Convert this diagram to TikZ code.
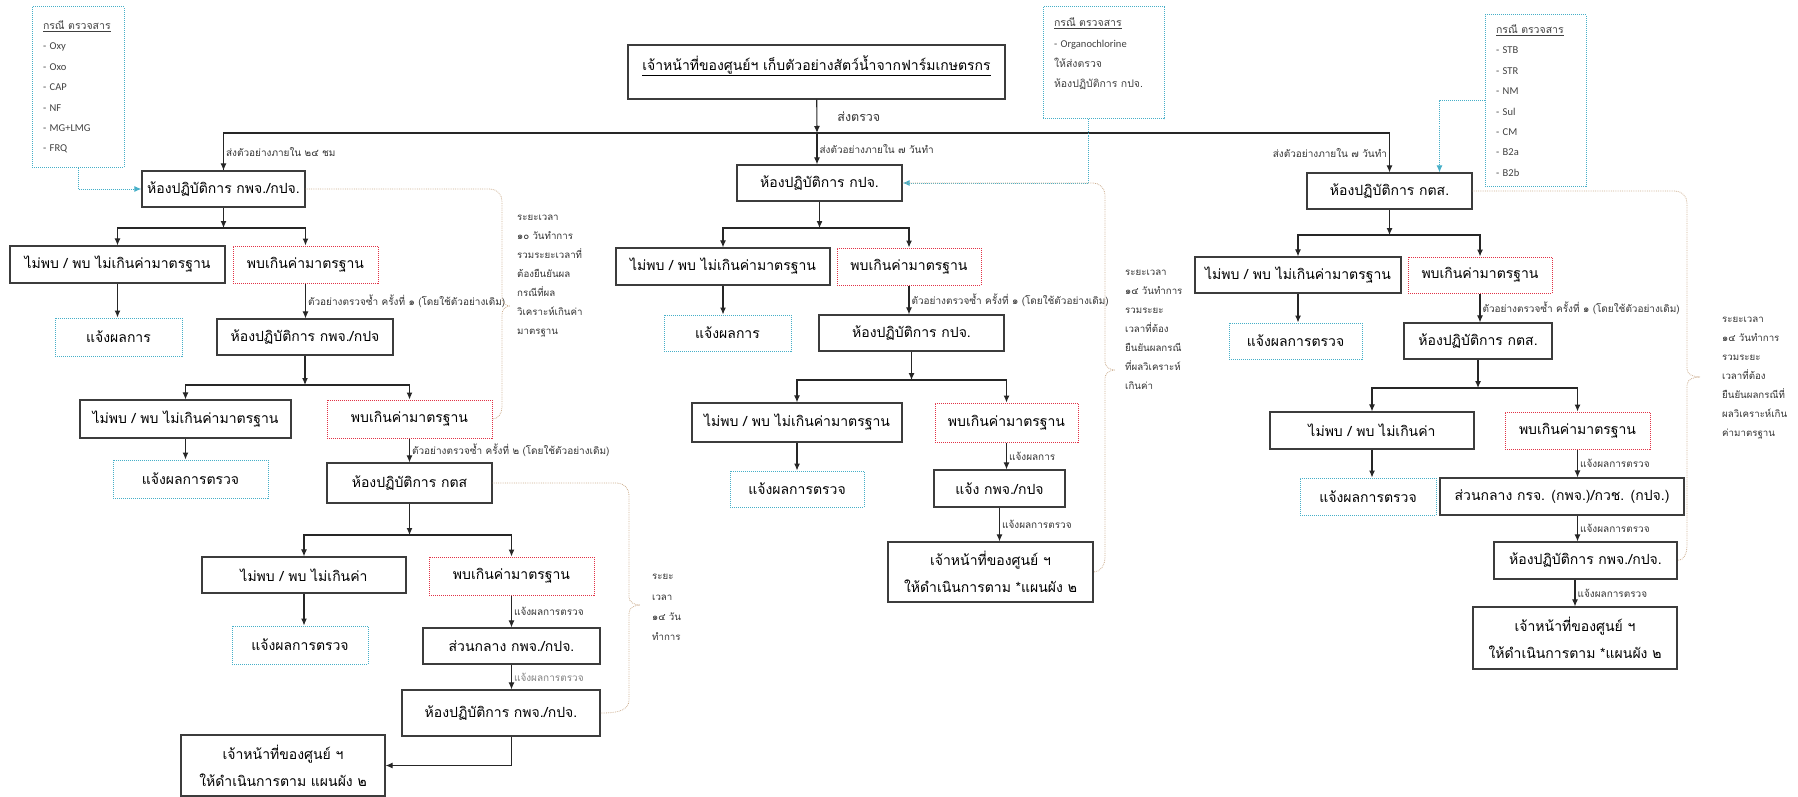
\documentclass[tikz,border=0pt]{standalone}
\usepackage{fontspec}
\setmainfont{Loma}[Script=Thai]
\newfontfamily\chemfont{Carlito}
\usetikzlibrary{arrows.meta}
\definecolor{boxgray}{RGB}{60,60,60}
\definecolor{redline}{RGB}{225,50,70}
\definecolor{cyanline}{RGB}{70,175,200}
\definecolor{tanline}{RGB}{205,175,145}
\tikzset{
    box/.style = {draw = boxgray, line width = 1.2pt, inner sep = 0pt, align = center, font = \fontsize{14}{27}\selectfont},
    redbox/.style = {box, draw = redline, line width = 1pt, densely dotted},
    notebox/.style = {box, draw = cyanline, line width = 1pt, densely dotted},
    chembox/.style = {draw = cyanline, line width = 1pt, densely dotted, align = left, inner xsep = 11pt, inner ysep = 0pt, font = \fontsize{10.5}{20.4}\selectfont, text = black!75},
    sz/.style 2 args = {minimum width = #1pt, minimum height = #2pt},
    lbl/.style = {inner sep = 2pt, font = \fontsize{10}{12}\selectfont, text = black!80},
    note/.style = {inner sep = 0pt, align = left, font = \fontsize{9.7}{19}\selectfont, text = black!80},
    flow/.style = {line width = 1.1pt, black!85, -{Latex[length = 7pt, width = 6pt]}},
    link/.style = {line width = 1pt, cyanline, densely dotted, -{Latex[length = 7pt, width = 6pt]}},
    brace/.style = {line width = 0.8pt, tanline, densely dotted}
}
\begin{document}
\begin{tikzpicture}[x = 1pt, y = -1pt]
    \useasboundingbox (0,0) rectangle (1798,797);

    \node[box, sz = {377}{54}, font = \fontsize{14}{18}\selectfont] (top) at (816.5,72) {\underline{เจ้าหน้าที่ของศูนย์ฯ เก็บตัวอย่างสัตว์น้ำจากฟาร์มเกษตรกร}\\ \mbox{}};
    \coordinate (hub) at (817,133);

    \node[chembox, sz = {92}{160}, text width = 70pt] (chemL) at (78,87) {\underline{กรณี ตรวจสาร}\\{\chemfont - Oxy}\\{\chemfont - Oxo}\\{\chemfont - CAP}\\{\chemfont - NF}\\{\chemfont - MG+LMG}\\{\chemfont - FRQ}};
    \node[chembox, sz = {121}{112}, text width = 99pt] (chemM) at (1103.5,63) {\underline{กรณี ตรวจสาร}\\{\chemfont - Organochlorine}\\ให้ส่งตรวจ\\ห้องปฏิบัติการ กปจ.\\ \mbox{}};
    \node[chembox, sz = {101}{171}, text width = 79pt] (chemR) at (1535.5,100.5) {\underline{กรณี ตรวจสาร}\\{\chemfont - STB}\\{\chemfont - STR}\\{\chemfont - NM}\\{\chemfont - Sul}\\{\chemfont - CM}\\{\chemfont - B2a}\\{\chemfont - B2b}};

    \begin{scope}
        \node[box, sz = {163}{36}] (L1) at (223.5,189) {ห้องปฏิบัติการ กพจ./กปจ.};
        \node[box, sz = {215}{37}] (L2a) at (117.5,264.5) {ไม่พบ / พบ ไม่เกินค่ามาตรฐาน};
        \node[redbox, sz = {145}{37}] (L2b) at (305.5,264.5) {พบเกินค่ามาตรฐาน};
        \node[notebox, sz = {127}{38}] (L2n) at (118.5,337) {แจ้งผลการ};
        \node[box, sz = {176}{36}] (L3) at (305,337) {ห้องปฏิบัติการ กพจ./กปจ};
        \node[box, sz = {211}{38}] (L4a) at (185.5,419) {ไม่พบ / พบ ไม่เกินค่ามาตรฐาน};
        \node[redbox, sz = {165}{38}] (L4b) at (409.5,419) {พบเกินค่ามาตรฐาน};
        \node[notebox, sz = {155}{38}] (L4n) at (190.5,479) {แจ้งผลการตรวจ};
        \node[box, sz = {165}{40}] (L5) at (409.5,483) {ห้องปฏิบัติการ กตส};
        \node[box, sz = {204}{36}] (L6a) at (304,575) {ไม่พบ / พบ ไม่เกินค่า};
        \node[redbox, sz = {165}{38}] (L6b) at (511.5,576) {พบเกินค่ามาตรฐาน};
        \node[notebox, sz = {136}{38}] (L6n) at (300,645) {แจ้งผลการตรวจ};
        \node[box, sz = {177}{36}] (L7) at (511.5,646) {ส่วนกลาง กพจ./กปจ.};
        \node[box, sz = {198}{46}] (L8) at (501,713) {ห้องปฏิบัติการ กพจ./กปจ.};
        \node[box, sz = {204}{61}] (L9) at (283,765.5) {เจ้าหน้าที่ของศูนย์ ฯ\\ให้ดำเนินการตาม แผนผัง ๒};
        \coordinate (sL1) at (216,228);
        \coordinate (sL3) at (301,385);
        \coordinate (sL5) at (408,535);
    \end{scope}

    \begin{scope}
        \node[box, sz = {165}{36}] (M1) at (819.5,183) {ห้องปฏิบัติการ กปจ.};
        \node[box, sz = {214}{37}] (M2a) at (723,266.5) {ไม่พบ / พบ ไม่เกินค่ามาตรฐาน};
        \node[redbox, sz = {144}{37}] (M2b) at (909,266.5) {พบเกินค่ามาตรฐาน};
        \node[notebox, sz = {127}{36}] (M2n) at (727.5,333) {แจ้งผลการ};
        \node[box, sz = {185}{36}] (M3) at (911.5,333) {ห้องปฏิบัติการ กปจ.};
        \node[box, sz = {210}{39}] (M4a) at (797,422.5) {ไม่พบ / พบ ไม่เกินค่ามาตรฐาน};
        \node[redbox, sz = {143}{39}] (M4b) at (1006.5,422.5) {พบเกินค่ามาตรฐาน};
        \node[notebox, sz = {134}{36}] (M4n) at (797,489) {แจ้งผลการตรวจ};
        \node[box, sz = {131}{37}] (M5) at (999.5,488.5) {แจ้ง กพจ./กปจ};
        \node[box, sz = {205}{60}] (M6) at (990.5,572) {เจ้าหน้าที่ของศูนย์ ฯ\\ให้ดำเนินการตาม *แผนผัง ๒};
        \coordinate (sM1) at (818,228);
        \coordinate (sM3) at (904,380);
    \end{scope}

    \begin{scope}
        \node[box, sz = {165}{36}] (R1) at (1389.5,191) {ห้องปฏิบัติการ กตส.};
        \node[box, sz = {206}{36}] (R2a) at (1298,275) {ไม่พบ / พบ ไม่เกินค่ามาตรฐาน};
        \node[redbox, sz = {144}{36}] (R2b) at (1480,275) {พบเกินค่ามาตรฐาน};
        \node[notebox, sz = {133}{36}] (R2n) at (1295.5,341) {แจ้งผลการตรวจ};
        \node[box, sz = {148}{36}] (R3) at (1478,341) {ห้องปฏิบัติการ กตส.};
        \node[box, sz = {204}{37}] (R4a) at (1372,430.5) {ไม่พบ / พบ ไม่เกินค่า};
        \node[redbox, sz = {145}{37}] (R4b) at (1577.5,430.5) {พบเกินค่ามาตรฐาน};
        \node[notebox, sz = {136}{37}] (R4n) at (1368,496.5) {แจ้งผลการตรวจ};
        \node[box, sz = {244}{37}] (R5) at (1562,496.5) {ส่วนกลาง กรจ. (กพจ.)/กวช. (กปจ.)};
        \node[box, sz = {183}{37}] (R6) at (1585.5,560.5) {ห้องปฏิบัติการ กพจ./กปจ.};
        \node[box, sz = {204}{62}] (R7) at (1575,638) {เจ้าหน้าที่ของศูนย์ ฯ\\ให้ดำเนินการตาม *แผนผัง ๒};
        \coordinate (sR1) at (1389,235);
        \coordinate (sR3) at (1475,388);
    \end{scope}

    \draw[flow] (top) -- node[lbl, right = 18pt, font = \fontsize{12.5}{14}\selectfont] {ส่งตรวจ} (hub);
    \draw[line width = 1.1pt, black!85] (hub) -| (L1.north);
    \draw[flow] (hub) -| node[lbl, pos = 0.75, right] {ส่งตัวอย่างภายใน ๒๔ ชม} (L1.north);
    \draw[flow] (hub) -- node[lbl, right] {ส่งตัวอย่างภายใน ๗ วันทำ} (hub |- M1.north);
    \draw[flow] (hub) -| node[lbl, pos = 0.75, left] {ส่งตัวอย่างภายใน ๗ วันทำ} (R1.north);

    \foreach \a/\s/\b/\c in {L1/sL1/L2a/L2b, L3/sL3/L4a/L4b, L5/sL5/L6a/L6b, M1/sM1/M2a/M2b, M3/sM3/M4a/M4b, R1/sR1/R2a/R2b, R3/sR3/R4a/R4b} {
        \draw[flow] (\a.south) -- (\a.south |- \s);
        \draw[flow] (\s) -| (\b.north);
        \draw[flow] (\s) -| (\c.north);
    }
    \foreach \a/\b in {L2a/L2n, L4a/L4n, L6a/L6n, M2a/M2n, M4a/M4n, R2a/R2n, R4a/R4n}
        \draw[flow] (\a) -- (\a.south |- \b.north);

    \draw[flow] (L2b) -- node[lbl, right] {ตัวอย่างตรวจซ้ำ ครั้งที่ ๑ (โดยใช้ตัวอย่างเดิม)} (L2b.south |- L3.north);
    \draw[flow] (M2b) -- node[lbl, right] {ตัวอย่างตรวจซ้ำ ครั้งที่ ๑ (โดยใช้ตัวอย่างเดิม)} (M2b.south |- M3.north);
    \draw[flow] (R2b) -- node[lbl, right] {ตัวอย่างตรวจซ้ำ ครั้งที่ ๑ (โดยใช้ตัวอย่างเดิม)} (R2b.south |- R3.north);
    \draw[flow] (L4b) -- node[lbl, right] {ตัวอย่างตรวจซ้ำ ครั้งที่ ๒ (โดยใช้ตัวอย่างเดิม)} (L4b.south |- L5.north);
    \draw[flow] (L6b) -- node[lbl, right] {แจ้งผลการตรวจ} (L6b.south |- L7.north);
    \draw[flow] (L7) -- node[lbl, right, text = black!50] {แจ้งผลการตรวจ} (L7.south |- L8.north);
    \draw[flow] (L8.south -| L7.south) |- (L9.east);
    \draw[flow] (M4b) -- node[lbl, right] {แจ้งผลการ} (M4b.south |- M5.north);
    \draw[flow] (M5) -- node[lbl, right] {แจ้งผลการตรวจ} (M5.south |- M6.north);
    \draw[flow] (R4b) -- node[lbl, right] {แจ้งผลการตรวจ} (R4b.south |- R5.north);
    \draw[flow] (R5.south -| R4b.south) -- node[lbl, right] {แจ้งผลการตรวจ} (R6.north -| R4b.south);
    \draw[flow] (R6.south -| R7.north) -- node[lbl, right] {แจ้งผลการตรวจ} (R7.north);

    \draw[link] (chemL.south) |- (L1.west);
    \draw[link] ([xshift = -15pt]chemM.south) |- (M1.east);
    \draw[link] (chemR.west) -| ([xshift = 50pt]R1.north);

    \draw[brace] (L1.east) -- (490,189) to[out = 0, in = 90] (502,201) -- (502,298) to[out = -90, in = 180] (510,306) to[out = 180, in = 90] (502,314) -- (502,407) to[out = -90, in = 0] (L4b.east);
    \draw[brace] (M1.east) -- (1093,183) to[out = 0, in = 90] (1105,195) -- (1105,362) to[out = -90, in = 180] (1115,370) to[out = 180, in = 90] (1105,378) -- (1105,558) to[out = -90, in = 0] (M6.east);
    \draw[brace] (R1.east) -- (1675,191) to[out = 0, in = 90] (1687,203) -- (1687,369) to[out = -90, in = 180] (1700,377) to[out = 180, in = 90] (1687,385) -- (1687,546) to[out = -90, in = 0] (R6.east);
    \draw[brace] (L5.east) -- (617,483) to[out = 0, in = 90] (629,495) -- (629,597) to[out = -90, in = 180] (640,605) to[out = 180, in = 90] (629,613) -- (629,700) to[out = -90, in = 0] (L8.east);

    \node[note, anchor = west] (tL) at (517,276) {ระยะเวลา\\๑๐ วันทำการ\\รวมระยะเวลาที่\\ต้องยืนยันผล\\กรณีที่ผล\\วิเคราะห์เกินค่า\\มาตรฐาน};
    \node[note, anchor = west] (tM) at (1125,330) {ระยะเวลา\\๑๔ วันทำการ\\รวมระยะ\\เวลาที่ต้อง\\ยืนยันผลกรณี\\ที่ผลวิเคราะห์\\เกินค่า};
    \node[note, anchor = west] (tR) at (1722,378) {ระยะเวลา\\๑๔ วันทำการ\\รวมระยะ\\เวลาที่ต้อง\\ยืนยันผลกรณีที่\\ผลวิเคราะห์เกิน\\ค่ามาตรฐาน};
    \node[note, anchor = west, font = \fontsize{9.7}{20.3}\selectfont] (tL2) at (652,607.5) {ระยะ\\เวลา\\๑๔ วัน\\ทำการ};
\end{tikzpicture}
\end{document}
